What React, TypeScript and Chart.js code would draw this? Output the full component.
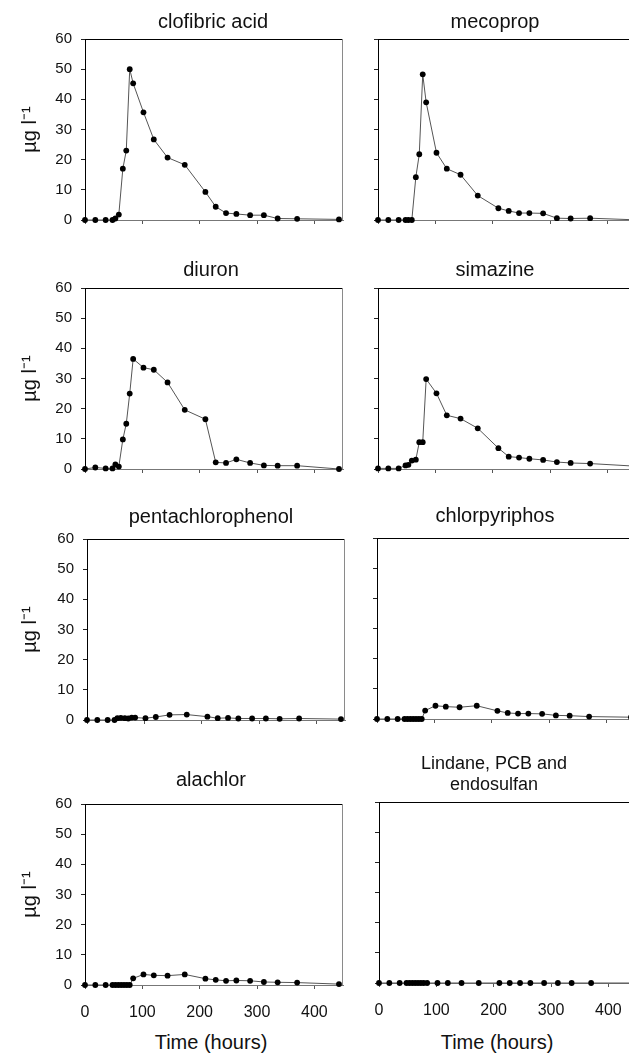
import React, { useEffect, useRef } from "react";
import { Chart, registerables } from "chart.js";

Chart.register(...registerables);

// ---- data ----
const TIME_A = [0, 18, 36, 48, 53, 59, 66, 72, 78, 84, 102, 120, 144, 174, 210, 228, 246, 264, 288, 312, 336, 370, 443];
const TIME_B = [0, 18, 36, 48, 53, 58, 63, 68, 73, 78, 84, 102, 120, 144, 174, 210, 228, 246, 264, 288, 312, 336, 370, 443];

const CLOFIBRIC = [0, 0, 0, 0, 0.5, 1.8, 17, 23, 50, 45.3, 35.7, 26.7, 20.7, 18.3, 9.3, 4.4, 2.3, 2, 1.6, 1.6, 0.5, 0.4, 0.2];
const MECOPROP = [0, 0, 0, 0, 0, 0, 14.2, 21.8, 48.3, 39, 22.3, 17, 15, 8.1, 3.9, 3, 2.3, 2.3, 2.2, 0.6, 0.5, 0.6, 0.1];
const DIURON = [0, 0.5, 0.2, 0.2, 1.5, 0.8, 9.8, 15, 25, 36.5, 33.6, 32.9, 28.7, 19.6, 16.5, 2.2, 2, 3.2, 2, 1.2, 1.1, 1.1, 0];
const SIMAZINE = [0.2, 0.2, 0.2, 1.2, 1.4, 2.8, 3.1, 8.9, 8.9, 29.8, 25.1, 17.8, 16.7, 13.5, 6.9, 4.1, 3.8, 3.4, 3, 2.3, 2, 1.8, 1];
const PENTACHLOROPHENOL = [0, 0, 0, 0, 0.6, 0.7, 0.6, 0.5, 0.8, 0.8, 0.6, 1, 1.7, 1.8, 1.1, 0.6, 0.7, 0.5, 0.5, 0.5, 0.4, 0.5, 0.3];
const CHLORPYRIPHOS = [0, 0, 0, 0, 0, 0, 0, 0, 0, 0, 2.8, 4.4, 4.1, 3.9, 4.4, 2.7, 2, 1.8, 1.8, 1.7, 1.2, 1.1, 0.8, 0.6];
const ALACHLOR = [0, 0, 0, 0, 0, 0, 0, 0, 0, 0, 2.2, 3.5, 3.2, 3.1, 3.5, 2.1, 1.7, 1.4, 1.5, 1.4, 1, 0.9, 0.8, 0.3];
const LINDANE = [0, 0, 0, 0, 0, 0, 0, 0, 0, 0, 0, 0, 0, 0, 0, 0, 0, 0, 0, 0, 0, 0, 0, 0];

const X_TICKS = [0, 100, 200, 300, 400];
const Y_TICKS = [0, 10, 20, 30, 40, 50, 60];
const X_MAX = 450;
const Y_MAX = 60;
const Y_TITLE = "µg l⁻¹";
const X_TITLE = "Time (hours)";

const FONT = "'Liberation Sans', Arial, Helvetica, sans-serif";

// ---- layout ----
const PLOT_W = 258;
const PLOT_H = 181;
const PAD_TOP = 22;
const PAD_RIGHT = 6;

type PanelDef = {
  title: string[];
  titleSize: number;
  titleCx: number;
  titleCy: number;
  times: number[];
  values: number[];
  plotLeft: number;
  plotTop: number;
  leftCol: boolean;
  bottomRow: boolean;
};

const PANELS: PanelDef[] = [
  { title: ["clofibric acid"], titleSize: 20, titleCx: 213, titleCy: 21, times: TIME_A, values: CLOFIBRIC, plotLeft: 85, plotTop: 39, leftCol: true, bottomRow: false },
  { title: ["mecoprop"], titleSize: 20, titleCx: 495, titleCy: 21, times: TIME_A, values: MECOPROP, plotLeft: 378, plotTop: 39, leftCol: false, bottomRow: false },
  { title: ["diuron"], titleSize: 20, titleCx: 211, titleCy: 269, times: TIME_A, values: DIURON, plotLeft: 85, plotTop: 288, leftCol: true, bottomRow: false },
  { title: ["simazine"], titleSize: 20, titleCx: 495, titleCy: 269, times: TIME_A, values: SIMAZINE, plotLeft: 378, plotTop: 288, leftCol: false, bottomRow: false },
  { title: ["pentachlorophenol"], titleSize: 20, titleCx: 211, titleCy: 516, times: TIME_A, values: PENTACHLOROPHENOL, plotLeft: 87, plotTop: 539, leftCol: true, bottomRow: false },
  { title: ["chlorpyriphos"], titleSize: 20, titleCx: 495, titleCy: 515, times: TIME_B, values: CHLORPYRIPHOS, plotLeft: 377, plotTop: 538, leftCol: false, bottomRow: false },
  { title: ["alachlor"], titleSize: 20, titleCx: 211, titleCy: 779, times: TIME_B, values: ALACHLOR, plotLeft: 85, plotTop: 804, leftCol: true, bottomRow: true },
  { title: ["Lindane, PCB and", "endosulfan"], titleSize: 18, titleCx: 494, titleCy: 774, times: TIME_B, values: LINDANE, plotLeft: 379, plotTop: 802, leftCol: false, bottomRow: true },
];

const framePlugin = {
  id: "frame",
  beforeDatasetsDraw(chart: any) {
    const { ctx, chartArea } = chart;
    const { left, top, right, bottom } = chartArea;
    ctx.save();
    ctx.lineWidth = 1;
    ctx.strokeStyle = "#000";
    ctx.beginPath();
    ctx.moveTo(left, Math.round(top) + 0.5);
    ctx.lineTo(right, Math.round(top) + 0.5);
    ctx.stroke();
    ctx.strokeStyle = "#8a8a8a";
    ctx.beginPath();
    ctx.moveTo(Math.round(right) - 0.5, top);
    ctx.lineTo(Math.round(right) - 0.5, bottom);
    ctx.stroke();
    ctx.restore();
  },
};

function Panel({ def }: { def: PanelDef }) {
  const ref = useRef<HTMLCanvasElement | null>(null);
  const yw = def.leftCol ? def.plotLeft : 20;
  const xh = def.bottomRow ? 40 : 8;
  const padBottom = def.bottomRow ? 0 : 14;
  const cw = yw + PLOT_W + PAD_RIGHT;
  const ch = PAD_TOP + PLOT_H + xh + padBottom;
  const cl = def.plotLeft - yw;
  const ct = def.plotTop - PAD_TOP;

  useEffect(() => {
    if (!ref.current) return;
    Chart.defaults.font.family = FONT;
    const chart = new Chart(ref.current, {
      type: "line",
      data: {
        datasets: [
          {
            data: def.times.map((t, i) => ({ x: t, y: def.values[i] })),
            borderColor: "#555",
            borderWidth: 1,
            pointRadius: 2.9,
            pointBackgroundColor: "#000",
            pointBorderColor: "#000",
            pointBorderWidth: 0,
            tension: 0,
            fill: false,
            clip: false,
          },
        ],
      },
      options: {
        animation: false,
        responsive: false,
        events: [],
        layout: { padding: { top: PAD_TOP, right: PAD_RIGHT, left: 0, bottom: padBottom } },
        plugins: {
          legend: { display: false },
          title: { display: false },
          tooltip: { enabled: false },
        },
        scales: {
          x: {
            type: "linear",
            min: 0,
            max: X_MAX,
            afterBuildTicks: (s: any) => {
              s.ticks = X_TICKS.map((v) => ({ value: v }));
            },
            afterFit: (s: any) => {
              s.height = xh;
            },
            grid: { drawOnChartArea: false, tickLength: 4, color: "#555", tickColor: "#555" },
            border: { color: "#777", width: 1 },
            ticks: {
              display: def.bottomRow,
              padding: 14,
              color: "#111",
              maxRotation: 0,
              font: { size: 16, family: FONT },
            },
          },
          y: {
            type: "linear",
            min: 0,
            max: Y_MAX,
            afterBuildTicks: (s: any) => {
              s.ticks = Y_TICKS.map((v) => ({ value: v }));
            },
            afterFit: (s: any) => {
              s.width = yw;
            },
            grid: { drawOnChartArea: false, tickLength: 4, color: "#222", tickColor: "#222" },
            border: { color: "#000", width: 1 },
            ticks: {
              display: def.leftCol,
              padding: 9,
              color: "#111",
              font: { size: 15, family: FONT },
            },
            title: {
              display: def.leftCol,
              text: Y_TITLE,
              color: "#111",
              font: { size: 20, family: FONT },
              padding: { top: 18, bottom: 0 },
            },
          },
        },
      } as any,
      plugins: [framePlugin],
    });
    return () => chart.destroy();
  }, []);

  return (
    <>
      <canvas
        ref={ref}
        width={cw}
        height={ch}
        style={{ position: "absolute", left: cl, top: ct, width: cw, height: ch }}
      />
      <div
        style={{
          position: "absolute",
          left: def.titleCx,
          top: def.titleCy,
          transform: "translate(-50%, -50%)",
          fontFamily: FONT,
          fontSize: def.titleSize,
          lineHeight: def.title.length > 1 ? "21px" : "1",
          color: "#111",
          textAlign: "center",
          whiteSpace: "nowrap",
        }}
      >
        {def.title.map((t, i) => (
          <div key={i}>{t}</div>
        ))}
      </div>
      {def.bottomRow && (
        <div
          style={{
            position: "absolute",
            left: def.leftCol ? 211 : 497,
            top: 1042,
            transform: "translate(-50%, -50%)",
            fontFamily: FONT,
            fontSize: 20,
            lineHeight: "1",
            color: "#111",
            whiteSpace: "nowrap",
          }}
        >
          {X_TITLE}
        </div>
      )}
    </>
  );
}

export default function App() {
  return (
    <div
      style={{
        position: "fixed",
        left: 0,
        top: 0,
        width: 629,
        height: 1057,
        overflow: "hidden",
        background: "#fff",
      }}
    >
      {PANELS.map((p, i) => (
        <Panel key={i} def={p} />
      ))}
    </div>
  );
}
